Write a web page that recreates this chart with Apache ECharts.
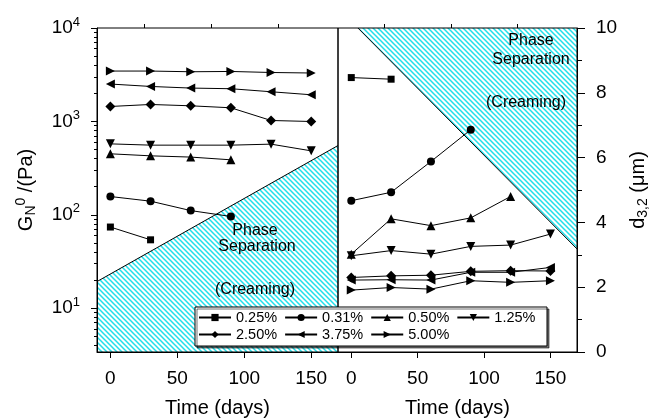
<!DOCTYPE html>
<html>
<head>
<meta charset="utf-8">
<script src="https://cdn.jsdelivr.net/npm/echarts@6/dist/echarts.min.js"></script>
<style>
  html, body { margin: 0; padding: 0; background: #fff; }
  #chart { width: 652px; height: 419px; }
</style>
</head>
<body>
<div id="chart"></div>
<script>
// storage time (days)
const days = [0, 30, 60, 90, 120, 150];
const legendNames = ['0.25%', '0.31%', '0.50%', '1.25%', '2.50%', '3.75%', '5.00%'];

// left panel: plateau modulus G_N^0 (Pa)
const g025 = [74, 54];
const g031 = [157, 140, 111, 96];
const g050 = [450, 428, 415, 388];
const g125 = [575, 557, 557, 557, 571, 484];
const g250 = [1445, 1518, 1469, 1399, 1023, 998];
const g375 = [2512, 2368, 2275, 2238, 2077, 1928];
const g500 = [3460, 3460, 3400, 3425, 3340, 3297];

// right panel: droplet size d3,2 (um)
const d025 = [8.47, 8.42];
const d031 = [4.67, 4.93, 5.88, 6.86];
const d050 = [3.02, 4.11, 3.90, 4.14, 4.80];
const d125 = [2.97, 3.13, 3.02, 3.26, 3.30, 3.64];
const d250 = [2.30, 2.35, 2.37, 2.49, 2.51, 2.50];
const d375 = [2.22, 2.23, 2.22, 2.46, 2.46, 2.61];
const d500 = [1.91, 1.99, 1.94, 2.20, 2.15, 2.20];

// phase separation boundaries
const leftBoundary = [[-10, 19.3], [170, 552]];
const rightBoundary = [[5, 10], [170, 3.18]];

// ticks
const xTicks = [0, 50, 100, 150];
const xMinor = [25, 75, 125];
const gTicks = [10, 100, 1000, 10000];
const gMinor = [4, 5, 6, 7, 8, 9, 20, 30, 40, 50, 60, 70, 80, 90,
  200, 300, 400, 500, 600, 700, 800, 900, 2000, 3000, 4000, 5000, 6000, 7000, 8000, 9000];

const FONT = 'Liberation Sans';

function hatch() {
  const c = document.createElement('canvas');
  c.width = 5; c.height = 5;
  const ctx = c.getContext('2d');
  ctx.strokeStyle = '#22dfea';
  ctx.lineWidth = 1.5;
  ctx.beginPath();
  ctx.moveTo(-1, -1); ctx.lineTo(6, 6);
  ctx.moveTo(-1, 4); ctx.lineTo(1, 6);
  ctx.moveTo(4, -1); ctx.lineTo(6, 1);
  ctx.stroke();
  return c;
}

const marks = [
  { symbol: 'rect', rot: 0, size: 7 },
  { symbol: 'circle', rot: 0, size: 8 },
  { symbol: 'triangle', rot: 0, size: 9 },
  { symbol: 'triangle', rot: 180, size: 9 },
  { symbol: 'diamond', rot: 0, size: 10 },
  { symbol: 'triangle', rot: 90, size: 9 },
  { symbol: 'triangle', rot: -90, size: 9 }
];

function ser(idx, vals, xi, yi) {
  const m = marks[idx];
  return {
    name: legendNames[idx],
    type: 'line',
    xAxisIndex: xi,
    yAxisIndex: yi,
    data: vals.map((v, i) => [days[i], v]),
    symbol: m.symbol,
    symbolRotate: m.rot,
    symbolSize: m.size,
    lineStyle: { color: '#000', width: 1 },
    itemStyle: { color: '#000' },
    z: 5
  };
}

function area(data, xi, yi, origin) {
  return {
    type: 'line',
    xAxisIndex: xi,
    yAxisIndex: yi,
    data: data,
    symbol: 'none',
    lineStyle: { color: '#000', width: 1 },
    areaStyle: { color: { image: hatch(), repeat: 'repeat' }, opacity: 1, origin: origin },
    z: 1,
    silent: true
  };
}

const chart = echarts.init(document.getElementById('chart'));

const labelStyle = { color: '#000', fontSize: 19, fontFamily: FONT };
const nameStyle = { color: '#000', fontSize: 20, fontFamily: FONT };

function xMain(grid) {
  return {
    type: 'value', gridIndex: grid, min: -10, max: 170, z: 10,
    name: 'Time (days)', nameLocation: 'middle', nameGap: 46,
    nameTextStyle: nameStyle,
    axisLine: { onZero: false, lineStyle: { color: '#000', width: 1 } },
    axisTick: { customValues: xTicks, length: 6, lineStyle: { color: '#000', width: 1 } },
    axisLabel: Object.assign({ customValues: xTicks, margin: 17 }, labelStyle),
    splitLine: { show: false }
  };
}
function xMinorAxis(grid) {
  return {
    type: 'value', gridIndex: grid, min: -10, max: 170, z: 10,
    axisLine: { show: false, onZero: false },
    axisTick: { customValues: xMinor, length: 4, lineStyle: { color: '#000', width: 1 } },
    axisLabel: { show: false },
    splitLine: { show: false }
  };
}

const option = {
  animation: false,
  backgroundColor: '#fff',
  textStyle: { fontFamily: FONT },
  grid: [
    { left: 97, top: 28, width: 241, height: 324, outerBoundsMode: 'none', containLabel: false,
      show: true, borderColor: '#000', borderWidth: 1, backgroundColor: 'transparent', z: 3 },
    { left: 338, top: 28, width: 239, height: 324, outerBoundsMode: 'none', containLabel: false,
      show: true, borderColor: '#000', borderWidth: 1, backgroundColor: 'transparent', z: 3 }
  ],
  xAxis: [xMain(0), xMinorAxis(0), xMain(1), xMinorAxis(1)],
  yAxis: [
    {
      type: 'log', gridIndex: 0, position: 'left', min: 3.4, max: 10000, z: 10,
      name: 'G{sub|N}{sup|0} /(Pa)', nameLocation: 'middle', nameGap: 58,
      nameTextStyle: Object.assign({
        rich: {
          sub: { fontSize: 14, fontFamily: FONT, color: '#000', padding: [9, 0, 0, 0] },
          sup: { fontSize: 14, fontFamily: FONT, color: '#000', padding: [0, 0, 11, 0] }
        }
      }, nameStyle),
      axisLine: { onZero: false, lineStyle: { color: '#000', width: 1 } },
      axisTick: { customValues: gTicks, length: 6, lineStyle: { color: '#000', width: 1 } },
      axisLabel: Object.assign({
        customValues: gTicks, margin: 17,
        formatter: v => '10{s|' + Math.round(Math.log10(v)) + '}',
        rich: { s: { fontSize: 13, fontFamily: FONT, color: '#000', padding: [0, 0, 12, 0] } }
      }, labelStyle),
      splitLine: { show: false }
    },
    {
      type: 'log', gridIndex: 0, position: 'left', min: 3.4, max: 10000, z: 10,
      axisLine: { show: false, onZero: false },
      axisTick: { customValues: gMinor, length: 3, lineStyle: { color: '#000', width: 1 } },
      axisLabel: { show: false },
      splitLine: { show: false }
    },
    {
      type: 'value', gridIndex: 1, position: 'right', min: 0, max: 10, interval: 2, z: 10,
      name: 'd{sub|3,2} (μm)', nameLocation: 'middle', nameGap: 50,
      nameTextStyle: Object.assign({
        rich: { sub: { fontSize: 14, fontFamily: FONT, color: '#000', padding: [9, 0, 0, 0] } }
      }, nameStyle),
      axisLine: { show: true, onZero: false, lineStyle: { color: '#000', width: 1 } },
      axisTick: { length: 8, lineStyle: { color: '#000' } },
      minorTick: { show: true, splitNumber: 2, length: 5, lineStyle: { color: '#000' } },
      axisLabel: Object.assign({ margin: 19 }, labelStyle),
      splitLine: { show: false },
      minorSplitLine: { show: false }
    }
  ],
  legend: [
    {
      data: legendNames.slice(0, 4), left: 198, top: 310, z: 20,
      itemWidth: 32, itemHeight: 9, itemGap: 7, padding: 0,
      textStyle: { fontSize: 14.5, color: '#000', fontFamily: FONT },
      selectedMode: false
    },
    {
      data: legendNames.slice(4), left: 198, top: 327, z: 20,
      itemWidth: 32, itemHeight: 9, itemGap: 7, padding: 0,
      textStyle: { fontSize: 14.5, color: '#000', fontFamily: FONT },
      selectedMode: false
    }
  ],
  graphic: [
    { type: 'rect', z: 15, shape: { x: 195, y: 307, width: 352, height: 39 },
      style: { fill: '#fff', stroke: '#000', lineWidth: 1, shadowColor: 'rgba(0,0,0,0.55)', shadowOffsetX: 2, shadowOffsetY: 2, shadowBlur: 0 } },
    { type: 'text', z: 12, x: 255, y: 231, style: { text: 'Phase', font: '16px ' + FONT, fill: '#000', align: 'center', verticalAlign: 'middle' } },
    { type: 'text', z: 12, x: 257, y: 247, style: { text: 'Separation', font: '16px ' + FONT, fill: '#000', align: 'center', verticalAlign: 'middle' } },
    { type: 'text', z: 12, x: 255, y: 290, style: { text: '(Creaming)', font: '16px ' + FONT, fill: '#000', align: 'center', verticalAlign: 'middle' } },
    { type: 'text', z: 12, x: 531, y: 41, style: { text: 'Phase', font: '16px ' + FONT, fill: '#000', align: 'center', verticalAlign: 'middle' } },
    { type: 'text', z: 12, x: 531, y: 60, style: { text: 'Separation', font: '16px ' + FONT, fill: '#000', align: 'center', verticalAlign: 'middle' } },
    { type: 'text', z: 12, x: 526, y: 103, style: { text: '(Creaming)', font: '16px ' + FONT, fill: '#000', align: 'center', verticalAlign: 'middle' } }
  ],
  series: [
    area(leftBoundary, 0, 0, 'start'),
    area(rightBoundary, 2, 2, 'end'),
    ser(0, g025, 0, 0), ser(1, g031, 0, 0), ser(2, g050, 0, 0), ser(3, g125, 0, 0),
    ser(4, g250, 0, 0), ser(5, g375, 0, 0), ser(6, g500, 0, 0),
    ser(0, d025, 2, 2), ser(1, d031, 2, 2), ser(2, d050, 2, 2), ser(3, d125, 2, 2),
    ser(4, d250, 2, 2), ser(5, d375, 2, 2), ser(6, d500, 2, 2)
  ]
};

chart.setOption(option);
</script>
</body>
</html>
